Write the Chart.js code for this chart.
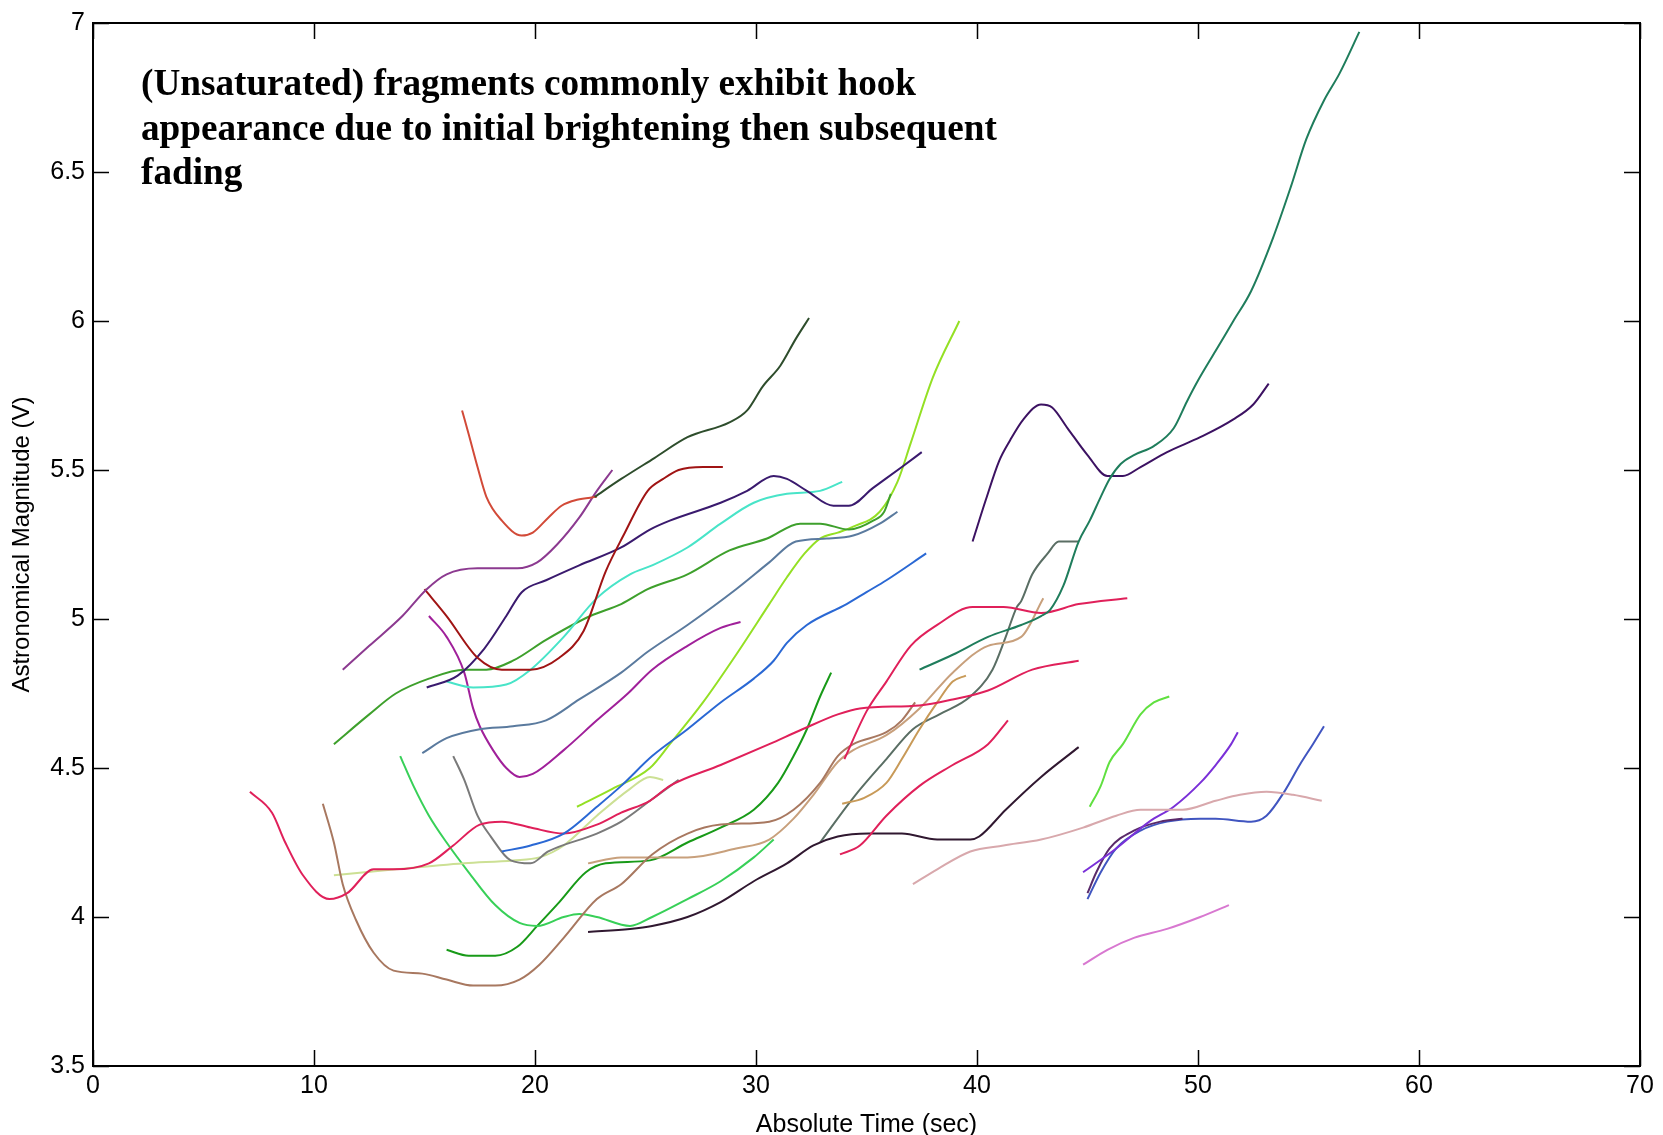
<!DOCTYPE html>
<html><head><meta charset="utf-8">
<script src="https://cdn.jsdelivr.net/npm/chart.js@4.4.1/dist/chart.umd.min.js"></script>
<style>html,body{margin:0;padding:0;background:#fff;overflow:hidden}canvas{display:block}</style>
</head><body>
<canvas id="c" width="1663" height="1135"></canvas>
<script>
const xTicks = [0,10,20,30,40,50,60,70];
const yTicks = [3.5,4,4.5,5,5.5,6,6.5,7];
const xTitle = "Absolute Time (sec)";
const yTitle = "Astronomical Magnitude (V)";
const noteLines = ["(Unsaturated) fragments commonly exhibit hook","appearance due to initial brightening then subsequent","fading"];

const fragTeal = [[37.4,4.83],[38.9,4.88],[40.5,4.94],[42.0,4.98],[42.9,5.01],[43.3,5.03],[43.9,5.11],[44.6,5.26],[45.1,5.33],[45.6,5.41],[46.0,5.47],[46.5,5.52],[47.1,5.55],[48.0,5.58],[48.9,5.64],[49.5,5.73],[50.0,5.80],[50.8,5.90],[51.6,6.00],[52.4,6.10],[53.4,6.28],[54.2,6.45],[54.9,6.61],[55.7,6.74],[56.4,6.83],[57.3,6.97]];
const fragPlumHump = [[39.8,5.26],[40.4,5.40],[41.0,5.53],[41.5,5.60],[42.1,5.67],[42.9,5.72],[43.4,5.71],[44.1,5.64],[45.0,5.55],[45.9,5.48],[46.6,5.48],[47.4,5.51],[48.6,5.56],[50.1,5.61],[51.6,5.67],[52.5,5.72],[53.2,5.79]];
const fragOlive = [[22.7,5.41],[23.9,5.47],[25.4,5.54],[26.9,5.61],[28.8,5.66],[29.6,5.70],[30.3,5.78],[31.1,5.85],[31.8,5.94],[32.4,6.01]];
const fragRedHook = [[16.7,5.70],[17.0,5.62],[17.4,5.51],[17.8,5.41],[18.5,5.33],[19.4,5.28],[19.9,5.29],[20.6,5.34],[21.2,5.38],[21.9,5.40],[22.8,5.41]];
const fragPurple = [[11.3,4.83],[12.5,4.91],[14.0,5.01],[15.1,5.10],[16.0,5.15],[17.4,5.17],[19.2,5.17],[20.1,5.19],[21.0,5.25],[22.0,5.34],[22.8,5.43],[23.5,5.50]];
const fragMaroon = [[15.0,5.10],[16.0,5.01],[17.4,4.87],[18.5,4.83],[19.8,4.83],[21.1,4.87],[22.2,4.96],[23.2,5.16],[24.0,5.28],[25.1,5.43],[25.8,5.47],[26.5,5.50],[27.6,5.51],[28.5,5.51]];
const fragIndigo = [[15.1,4.77],[16.5,4.81],[17.7,4.90],[18.7,5.01],[19.4,5.09],[20.5,5.13],[22.0,5.18],[23.9,5.24],[25.2,5.30],[26.1,5.33],[28.4,5.39],[29.6,5.43],[30.8,5.48],[31.4,5.47],[32.3,5.43],[33.5,5.38],[34.2,5.38],[35.3,5.44],[36.6,5.51],[37.5,5.56]];
const fragAqua = [[16.0,4.79],[17.2,4.77],[18.7,4.78],[19.8,4.83],[21.3,4.94],[22.8,5.07],[24.3,5.15],[25.3,5.18],[26.9,5.24],[28.4,5.32],[29.9,5.39],[31.4,5.42],[32.9,5.43],[33.9,5.46]];
const fragGreen = [[10.9,4.58],[12.5,4.68],[13.7,4.75],[15.2,4.80],[16.8,4.83],[17.8,4.83],[19.0,4.86],[20.5,4.93],[22.5,5.01],[23.9,5.05],[25.1,5.10],[26.9,5.15],[28.8,5.23],[30.5,5.27],[32.0,5.32],[32.9,5.32],[34.2,5.30],[35.3,5.33],[35.8,5.36],[36.1,5.42]];
const fragSlate = [[14.9,4.55],[16.0,4.60],[17.5,4.63],[19.0,4.64],[20.5,4.66],[22.0,4.73],[23.9,4.82],[25.1,4.89],[26.9,4.98],[29.1,5.10],[30.6,5.19],[31.8,5.26],[33.2,5.27],[34.4,5.28],[35.6,5.32],[36.4,5.36]];
const fragMagenta = [[15.2,5.01],[16.0,4.94],[16.8,4.82],[17.2,4.70],[17.5,4.64],[18.1,4.56],[18.7,4.50],[19.3,4.47],[19.9,4.48],[21.3,4.56],[22.8,4.66],[24.2,4.75],[25.3,4.83],[26.9,4.91],[28.4,4.97],[29.3,4.99]];
const fragBlue = [[18.5,4.22],[19.8,4.24],[21.3,4.28],[22.8,4.37],[23.9,4.44],[25.3,4.54],[26.9,4.63],[28.4,4.72],[29.9,4.80],[30.8,4.86],[31.4,4.92],[32.3,4.98],[34.1,5.05],[35.0,5.09],[35.9,5.13],[37.7,5.22]];
const fragLime = [[21.9,4.37],[23.5,4.43],[25.2,4.50],[26.1,4.58],[27.6,4.72],[29.1,4.88],[30.6,5.05],[31.4,5.14],[32.2,5.22],[32.9,5.27],[33.7,5.29],[34.4,5.31],[35.6,5.36],[36.4,5.46],[37.0,5.59],[38.0,5.81],[39.2,6.00]];
const fragCrimsonLong = [[7.1,4.42],[8.1,4.35],[8.7,4.25],[9.5,4.14],[10.7,4.06],[11.5,4.08],[12.7,4.16],[13.6,4.16],[15.2,4.18],[16.3,4.24],[17.5,4.31],[18.5,4.32],[19.8,4.30],[21.3,4.28],[22.8,4.31],[23.9,4.35],[25.2,4.39],[26.1,4.44],[28.4,4.51],[30.6,4.58],[32.1,4.63],[33.7,4.68],[34.7,4.70],[37.4,4.71],[38.9,4.73],[40.5,4.76],[42.5,4.83],[44.6,4.86]];
const fragCrimsonLow = [[33.8,4.21],[34.7,4.24],[35.9,4.34],[37.4,4.44],[38.9,4.51],[40.5,4.58],[41.4,4.66]];
const fragCrimsonHigh = [[34.0,4.53],[35.0,4.69],[35.9,4.79],[37.0,4.91],[38.2,4.98],[39.8,5.04],[41.2,5.04],[42.9,5.02],[44.6,5.05],[46.8,5.07]];
const fragBrown = [[10.4,4.38],[10.9,4.25],[11.3,4.11],[11.9,3.99],[12.7,3.88],[13.6,3.82],[14.9,3.81],[16.0,3.79],[17.2,3.77],[18.2,3.77],[19.3,3.79],[20.2,3.84],[21.3,3.93],[22.8,4.06],[23.9,4.11],[25.3,4.21],[26.9,4.28],[28.4,4.31],[30.6,4.32],[31.7,4.36],[32.9,4.45],[33.7,4.54],[34.4,4.58],[35.9,4.62],[36.6,4.66],[37.2,4.72]];
const fragTan = [[22.4,4.18],[23.9,4.20],[26.9,4.20],[29.1,4.23],[30.6,4.26],[31.7,4.33],[32.6,4.41],[33.7,4.52],[34.4,4.56],[35.9,4.61],[37.4,4.70],[38.9,4.82],[40.5,4.91],[42.0,4.94],[43.0,5.07]];
const fragGold = [[33.9,4.38],[34.9,4.40],[35.9,4.45],[36.6,4.53],[37.4,4.63],[38.2,4.72],[38.9,4.79],[39.5,4.81]];
const fragGray = [[16.3,4.54],[16.8,4.46],[17.4,4.34],[18.0,4.27],[18.9,4.19],[19.8,4.18],[20.6,4.22],[22.8,4.28],[23.9,4.32],[25.2,4.39],[26.5,4.46]];
const fragPale = [[10.9,4.14],[13.7,4.16],[16.8,4.18],[19.0,4.19],[20.2,4.20],[21.3,4.24],[22.8,4.34],[24.3,4.43],[25.2,4.47],[25.8,4.46]];
const fragLightGreen = [[13.9,4.54],[14.5,4.44],[15.2,4.34],[16.0,4.25],[17.0,4.15],[18.2,4.04],[19.3,3.98],[20.1,3.97],[21.3,4.00],[22.0,4.01],[22.8,4.00],[24.3,3.97],[25.3,4.00],[26.9,4.06],[28.4,4.12],[29.9,4.20],[30.8,4.26]];
const fragDarkGreen = [[16.0,3.89],[17.0,3.87],[18.2,3.87],[19.2,3.90],[20.1,3.97],[21.1,4.05],[22.3,4.15],[23.2,4.18],[25.2,4.19],[26.9,4.25],[28.4,4.30],[29.9,4.36],[31.0,4.45],[31.7,4.54],[32.3,4.63],[32.9,4.74],[33.4,4.82]];
const fragPlum = [[22.4,3.95],[24.3,3.96],[25.3,3.97],[26.9,4.00],[28.4,4.05],[29.9,4.12],[31.4,4.18],[32.6,4.24],[33.7,4.27],[35.1,4.28],[36.6,4.28],[38.2,4.26],[39.7,4.26],[40.1,4.27],[41.3,4.36],[42.9,4.47],[44.6,4.57]];
const fragPink = [[37.1,4.11],[38.2,4.16],[39.7,4.22],[41.2,4.24],[42.9,4.26],[44.8,4.30],[46.3,4.34],[47.4,4.36],[49.3,4.36],[50.8,4.39],[51.9,4.41],[53.1,4.42],[54.3,4.41],[55.6,4.39]];
const fragBrightGreen = [[45.1,4.37],[45.6,4.44],[46.0,4.52],[46.6,4.58],[47.4,4.68],[48.0,4.72],[48.7,4.74]];
const fragViolet = [[44.8,4.15],[46.3,4.23],[47.8,4.32],[48.9,4.37],[50.1,4.45],[50.8,4.51],[51.5,4.58],[51.8,4.62]];
const fragDarkViolet = [[45.0,4.08],[45.4,4.15],[46.0,4.23],[47.1,4.29],[48.3,4.32],[49.3,4.33]];
const fragRoyal = [[45.0,4.06],[45.6,4.15],[46.3,4.23],[47.4,4.29],[48.6,4.32],[50.1,4.33],[50.8,4.33],[52.4,4.32],[53.1,4.34],[53.9,4.42],[54.6,4.51],[55.2,4.58],[55.7,4.64]];
const fragOrchid = [[44.8,3.84],[45.9,3.89],[47.1,3.93],[48.6,3.96],[50.1,4.00],[51.4,4.04]];
const fragGrayGreen = [[32.9,4.25],[34.4,4.40],[35.9,4.53],[37.1,4.63],[38.3,4.68],[39.7,4.74],[40.7,4.83],[41.3,4.94],[41.8,5.04],[42.0,5.06],[42.5,5.15],[43.2,5.22],[43.7,5.26],[44.6,5.26]];

const series = [fragTeal, fragPlumHump, fragOlive, fragRedHook, fragPurple, fragMaroon, fragIndigo, fragAqua, fragGreen, fragSlate, fragMagenta, fragBlue, fragLime, fragCrimsonLong, fragCrimsonLow, fragCrimsonHigh, fragBrown, fragTan, fragGold, fragGray, fragPale, fragLightGreen, fragDarkGreen, fragPlum, fragPink, fragBrightGreen, fragViolet, fragDarkViolet, fragRoyal, fragOrchid, fragGrayGreen];
const lineColors = ['#1f7d5c','#3c1262','#2e4d2c','#d24a38','#8c3a90','#a01414','#3a1a6e','#48e4c8','#3ea02c','#5a7a9e','#a0209a','#2a68d4','#94e024','#e0205a','#e0205a','#e0205a','#a87860','#c8a07c','#c89a58','#7a7a7a','#cce094','#38d058','#189a18','#301830','#d8a8ac','#60e040','#7a30d8','#5a2a6a','#4055c0','#d878d0','#5a6e64'];

const frame = {
  id: 'frame',
  afterDatasetsDraw(chart) {
    const {ctx, chartArea: a, scales: {x, y}} = chart;
    ctx.save();
    ctx.strokeStyle = '#000';
    ctx.lineWidth = 2;
    ctx.strokeRect(a.left, a.top, a.right - a.left, a.bottom - a.top);
    ctx.lineWidth = 1.5;
    const L = 16;
    ctx.beginPath();
    xTicks.forEach(v => {
      const px = Math.round(x.getPixelForValue(v)) + 0.5;
      ctx.moveTo(px, a.bottom); ctx.lineTo(px, a.bottom - L);
      ctx.moveTo(px, a.top); ctx.lineTo(px, a.top + L);
    });
    yTicks.forEach(v => {
      const py = Math.round(y.getPixelForValue(v)) + 0.5;
      ctx.moveTo(a.left, py); ctx.lineTo(a.left + L, py);
      ctx.moveTo(a.right, py); ctx.lineTo(a.right - L, py);
    });
    ctx.stroke();
    ctx.fillStyle = '#000';
    ctx.font = 'bold 100px "Liberation Serif"';
    const w = ctx.measureText(noteLines[1]).width;
    const size = 100 * 856 / w;
    ctx.font = 'bold ' + size.toFixed(2) + 'px "Liberation Serif"';
    ctx.textBaseline = 'alphabetic';
    ctx.textAlign = 'left';
    noteLines.forEach((t, i) => ctx.fillText(t, 141, 95 + i * 44.5));
    ctx.restore();
  }
};

const axisFont = '"Liberation Sans", Arial, sans-serif';
new Chart(document.getElementById('c'), {
  type: 'line',
  data: {
    datasets: series.map((s, i) => ({
      data: s.map(([px, py]) => ({x: px, y: py})),
      borderColor: lineColors[i],
      borderWidth: 2,
      pointRadius: 0,
      fill: false,
      cubicInterpolationMode: 'monotone'
    }))
  },
  options: {
    responsive: false,
    animation: false,
    layout: {padding: {top: 17, right: 23, left: 0, bottom: 0}},
    plugins: {legend: {display: false}, tooltip: {enabled: false}},
    scales: {
      x: {
        type: 'linear', min: 0, max: 70,
        afterBuildTicks: s => { s.ticks = xTicks.map(v => ({value: v})); },
        afterFit: s => { s.height = 69; },
        grid: {display: false, drawTicks: false},
        border: {display: false},
        ticks: {color: '#000', font: {family: axisFont, size: 25}, padding: 5, maxRotation: 0, callback: v => String(v)},
        title: {display: true, text: xTitle, color: '#000', font: {family: axisFont, size: 25}, padding: {top: 0, bottom: -5}}
      },
      y: {
        type: 'linear', min: 3.5, max: 7,
        afterBuildTicks: s => { s.ticks = yTicks.map(v => ({value: v})); },
        afterFit: s => { s.width = 93; },
        grid: {display: false, drawTicks: false},
        border: {display: false},
        ticks: {color: '#000', font: {family: axisFont, size: 25}, padding: 8, callback: v => String(v)},
        title: {display: true, text: yTitle, color: '#000', font: {family: axisFont, size: 24}, padding: {top: 8, bottom: 0}}
      }
    }
  },
  plugins: [frame]
});
</script>
</body></html>
